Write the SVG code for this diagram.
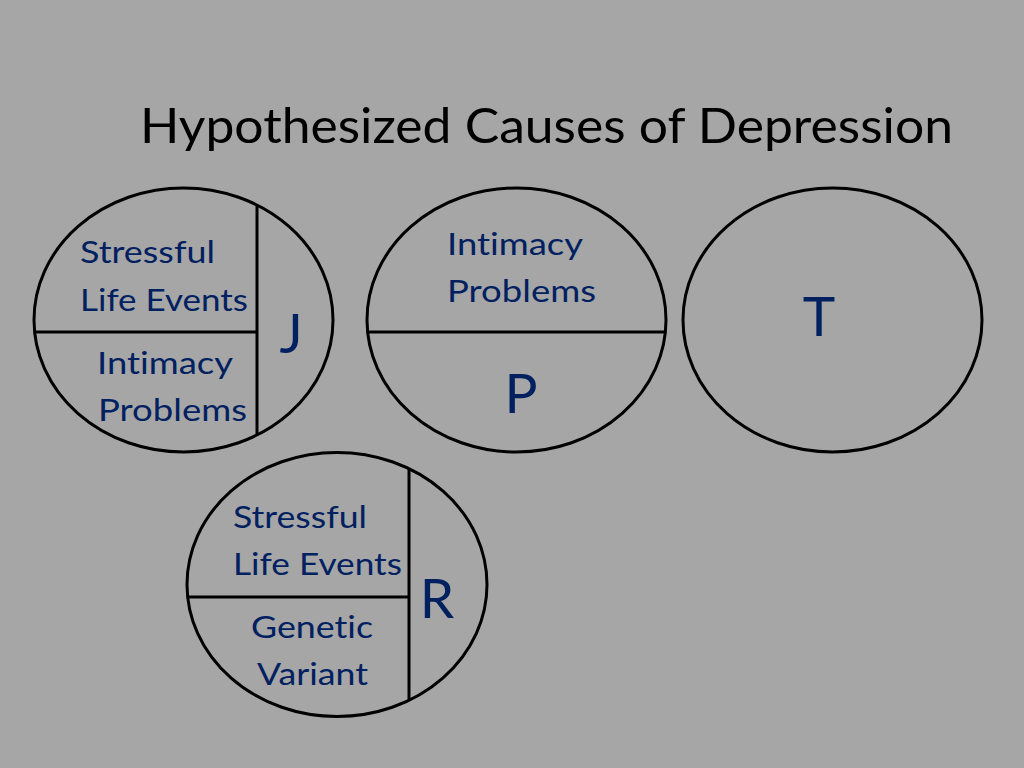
<svg xmlns="http://www.w3.org/2000/svg" width="1024" height="768" viewBox="0 0 1024 768">
<style>
.bg{fill:#a6a6a6}
.ov{fill:none;stroke:#000;stroke-width:3}
.ln{stroke:#000;stroke-width:3}
text{font-variant-ligatures:none}
.t{font-family:Lato,"Open Sans","Liberation Sans",sans-serif;fill:#002060;font-size:30px}
.big{font-family:Lato,"Open Sans","Liberation Sans",sans-serif;fill:#002060;font-size:55px;text-anchor:middle}
.title{font-family:Lato,"Open Sans","Liberation Sans",sans-serif;fill:#000;font-size:49px}
</style>
<rect class="bg" x="0" y="0" width="1024" height="768"/>
<text class="title" x="140" y="143" textLength="813" lengthAdjust="spacingAndGlyphs">Hypothesized Causes of Depression</text>
<g id="node-J">
<ellipse class="ov" cx="183.5" cy="320" rx="149.5" ry="132"/>
<line class="ln" x1="257" y1="205" x2="257" y2="435"/>
<line class="ln" x1="34" y1="332" x2="257" y2="332"/>
<text class="t" x="80" y="263" textLength="135" lengthAdjust="spacingAndGlyphs">Stressful</text>
<text class="t" x="80" y="311" textLength="168" lengthAdjust="spacingAndGlyphs">Life Events</text>
<text class="t" x="97" y="374" textLength="136" lengthAdjust="spacingAndGlyphs">Intimacy</text>
<text class="t" x="98" y="421" textLength="149" lengthAdjust="spacingAndGlyphs">Problems</text>
<text class="big" x="291" y="353">J</text>
</g>
<g id="node-P">
<ellipse class="ov" cx="516.5" cy="320" rx="149.5" ry="132"/>
<line class="ln" x1="367" y1="332" x2="666" y2="332"/>
<text class="t" x="447" y="255" textLength="136" lengthAdjust="spacingAndGlyphs">Intimacy</text>
<text class="t" x="447" y="302" textLength="149" lengthAdjust="spacingAndGlyphs">Problems</text>
<text class="big" x="521" y="413">P</text>
</g>
<g id="node-T">
<ellipse class="ov" cx="832.5" cy="320" rx="149.5" ry="132"/>
<text class="big" x="819" y="336">T</text>
</g>
<g id="node-R">
<ellipse class="ov" cx="337" cy="584.5" rx="150" ry="132"/>
<line class="ln" x1="409" y1="469" x2="409" y2="700"/>
<line class="ln" x1="187" y1="597" x2="409" y2="597"/>
<text class="t" x="233" y="528" textLength="134" lengthAdjust="spacingAndGlyphs">Stressful</text>
<text class="t" x="233" y="575" textLength="169" lengthAdjust="spacingAndGlyphs">Life Events</text>
<text class="t" x="251" y="638" textLength="122" lengthAdjust="spacingAndGlyphs">Genetic</text>
<text class="t" x="257" y="685" textLength="111" lengthAdjust="spacingAndGlyphs">Variant</text>
<text class="big" x="437" y="618">R</text>
</g>
</svg>
